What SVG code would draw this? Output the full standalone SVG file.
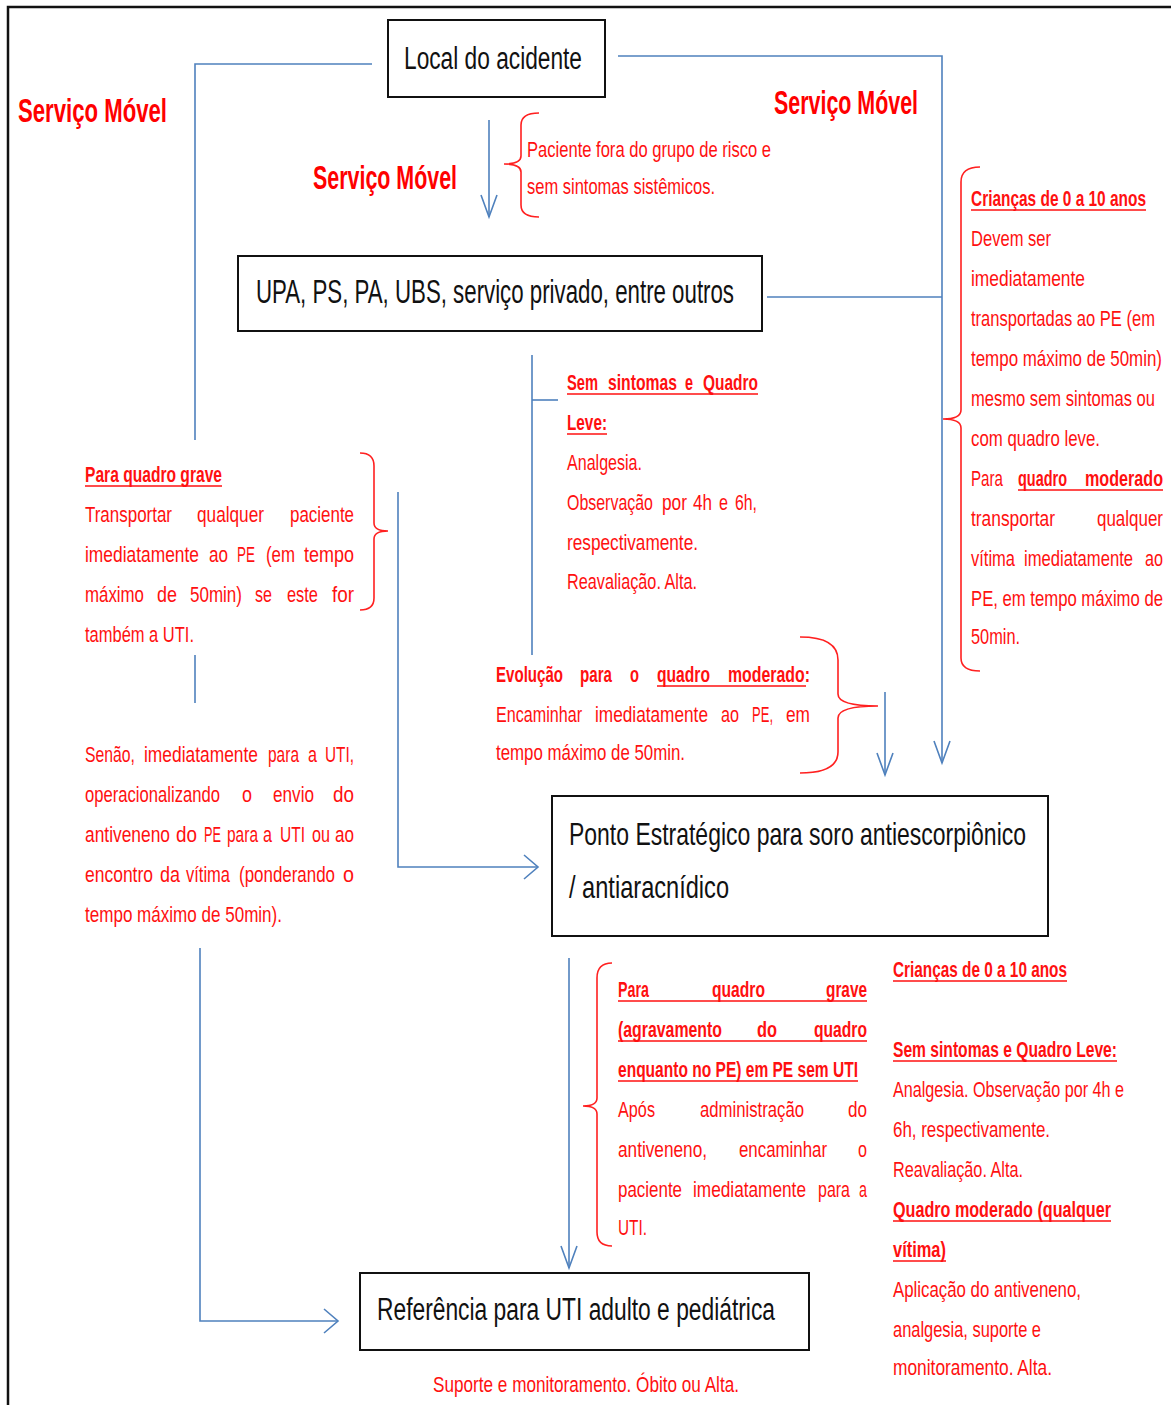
<svg xmlns="http://www.w3.org/2000/svg" width="1171" height="1405" viewBox="0 0 1171 1405">
<style>
.t{font-family:'Liberation Sans Narrow','Liberation Sans',Arial,sans-serif;font-size:22px;fill:#ff1010}
.b{font-weight:bold}
.bx{font-family:'Liberation Sans Narrow','Liberation Sans',Arial,sans-serif;fill:#111}
.h{font-family:'Liberation Sans Narrow','Liberation Sans',Arial,sans-serif;font-weight:bold;font-size:34px;fill:#ff0000}
.c{fill:none;stroke:#4f81bd;stroke-width:1.6}
.br{fill:none;stroke:#ff2020;stroke-width:1.6}
.ul{stroke:#ff1010;stroke-width:1.6}
.nb{fill:#fff;stroke:#111;stroke-width:2}
</style>
<defs>
<marker id="ad" markerWidth="30" markerHeight="30" viewBox="-25 -15 30 30" refX="0" refY="0" orient="auto" markerUnits="userSpaceOnUse"><path d="M-22,-8 L0,0 L-22,8" fill="none" stroke="#4f81bd" stroke-width="1.6"/></marker>
<marker id="ah" markerWidth="30" markerHeight="30" viewBox="-25 -15 30 30" refX="0" refY="0" orient="auto" markerUnits="userSpaceOnUse"><path d="M-14,-12 L0,0 L-14,12" fill="none" stroke="#4f81bd" stroke-width="1.6"/></marker>
</defs>
<rect width="1171" height="1405" fill="#fff"/>
<rect x="8" y="7" width="1200" height="1450" fill="none" stroke="#111" stroke-width="2.5"/>

<g id="connectors">
<polyline class="c" points="372,64 195,64 195,440"/>
<line class="c" x1="195" y1="655" x2="195" y2="703"/>
<polyline class="c" points="200,948 200,1321 338,1321" marker-end="url(#ah)"/>
<polyline class="c" points="618,56 942,56 942,763" marker-end="url(#ad)"/>
<line class="c" x1="767" y1="297" x2="942" y2="297"/>
<line class="c" x1="489" y1="120" x2="489" y2="217" marker-end="url(#ad)"/>
<line class="c" x1="532" y1="355" x2="532" y2="655"/>
<line class="c" x1="532" y1="400" x2="558" y2="400"/>
<polyline class="c" points="398,492 398,867 538,867" marker-end="url(#ah)"/>
<line class="c" x1="885" y1="692" x2="885" y2="775" marker-end="url(#ad)"/>
<line class="c" x1="569" y1="958" x2="569" y2="1268" marker-end="url(#ad)"/>
</g>

<g id="braces">
<path class="br" d="M539,113 Q521,113 521,125 L521,156 Q521,164 504,164 Q521,164 521,172 L521,205 Q521,217 539,217"/>
<path class="br" d="M980,167 Q961,167 961,182 L961,410 Q961,419 943,419 Q961,419 961,428 L961,658 Q961,671 980,671"/>
<path class="br" d="M360,453 Q374,453 374,466 L374,523 Q374,531 388,531 Q374,531 374,539 L374,598 Q374,610 360,610"/>
<path class="br" d="M800,637 Q838,637 838,660 L838,694 Q838,706 878,706 Q838,706 838,718 L838,752 Q838,773 800,773"/>
<path class="br" d="M612,963 Q597,963 597,978 L597,1098 Q597,1106 583,1106 Q597,1106 597,1114 L597,1232 Q597,1246 612,1246"/>
</g>

<g id="local">
<rect class="nb" x="388" y="20" width="217" height="77"/>
<text class="bx" x="404" y="69" font-size="31" textLength="178" lengthAdjust="spacingAndGlyphs">Local do acidente</text>
</g>
<g id="upa">
<rect class="nb" x="238" y="256" width="524" height="75"/>
<text class="bx" x="256" y="303" font-size="33" textLength="478" lengthAdjust="spacingAndGlyphs">UPA, PS, PA, UBS, serviço privado, entre outros</text>
</g>
<g id="pe">
<rect class="nb" x="552" y="796" width="496" height="140"/>
<text class="bx" x="569" y="845" font-size="32" textLength="457" lengthAdjust="spacingAndGlyphs">Ponto Estratégico para soro antiescorpiônico</text>
<text class="bx" x="569" y="898" font-size="32" textLength="160" lengthAdjust="spacingAndGlyphs">/ antiaracnídico</text>
</g>
<g id="uti">
<rect class="nb" x="360" y="1273" width="449" height="77"/>
<text class="bx" x="377" y="1320" font-size="31" textLength="398" lengthAdjust="spacingAndGlyphs">Referência para UTI adulto e pediátrica</text>
</g>

<g id="servico-movel">
<text class="h" x="18" y="122" textLength="149" lengthAdjust="spacingAndGlyphs">Serviço  Móvel</text>
<text class="h" x="313" y="189" textLength="144" lengthAdjust="spacingAndGlyphs">Serviço Móvel</text>
<text class="h" x="774" y="114" textLength="144" lengthAdjust="spacingAndGlyphs">Serviço Móvel</text>
</g>

<g id="note-top">
<text class="t" x="527" y="157" textLength="244" lengthAdjust="spacingAndGlyphs">Paciente fora do grupo de risco e</text>
<text class="t" x="527" y="194" textLength="188" lengthAdjust="spacingAndGlyphs">sem sintomas sistêmicos.</text>
</g>

<g id="note-right">
<text class="t b" x="971" y="206" textLength="175" lengthAdjust="spacingAndGlyphs">Crianças de 0 a 10 anos</text>
<line class="ul" x1="971" y1="210" x2="1146" y2="210"/>
<text class="t" x="971" y="246" textLength="80" lengthAdjust="spacingAndGlyphs">Devem ser</text>
<text class="t" x="971" y="286" textLength="114" lengthAdjust="spacingAndGlyphs">imediatamente</text>
<text class="t" x="971" y="326" textLength="184" lengthAdjust="spacingAndGlyphs">transportadas ao PE (em</text>
<text class="t" x="971" y="366" textLength="191" lengthAdjust="spacingAndGlyphs">tempo máximo de 50min)</text>
<text class="t" x="971" y="406" textLength="184" lengthAdjust="spacingAndGlyphs">mesmo sem sintomas ou</text>
<text class="t" x="971" y="446" textLength="129" lengthAdjust="spacingAndGlyphs">com quadro leve.</text>
<text class="t" y="486"><tspan x="971" textLength="32" lengthAdjust="spacingAndGlyphs">Para</tspan> <tspan class="b" x="1018" textLength="49" lengthAdjust="spacingAndGlyphs">quadro</tspan> <tspan class="b" x="1085" textLength="78" lengthAdjust="spacingAndGlyphs">moderado</tspan></text>
<line class="ul" x1="1018" y1="490" x2="1163" y2="490"/>
<text class="t" y="526"><tspan x="971" textLength="84" lengthAdjust="spacingAndGlyphs">transportar</tspan> <tspan x="1097" textLength="66" lengthAdjust="spacingAndGlyphs">qualquer</tspan></text>
<text class="t" y="566"><tspan x="971" textLength="44" lengthAdjust="spacingAndGlyphs">vítima</tspan> <tspan x="1024" textLength="109" lengthAdjust="spacingAndGlyphs">imediatamente</tspan> <tspan x="1145" textLength="18" lengthAdjust="spacingAndGlyphs">ao</tspan></text>
<text class="t" x="971" y="606" textLength="192" lengthAdjust="spacingAndGlyphs">PE, em tempo máximo de</text>
<text class="t" x="971" y="644" textLength="49" lengthAdjust="spacingAndGlyphs">50min.</text>
</g>

<g id="note-left">
<text class="t b" x="85" y="482" textLength="137" lengthAdjust="spacingAndGlyphs">Para quadro grave</text>
<line class="ul" x1="85" y1="486" x2="222" y2="486"/>
<text class="t" y="522"><tspan x="85" textLength="87" lengthAdjust="spacingAndGlyphs">Transportar</tspan> <tspan x="197" textLength="67" lengthAdjust="spacingAndGlyphs">qualquer</tspan> <tspan x="290" textLength="64" lengthAdjust="spacingAndGlyphs">paciente</tspan></text>
<text class="t" y="562"><tspan x="85" textLength="114" lengthAdjust="spacingAndGlyphs">imediatamente</tspan> <tspan x="209" textLength="19" lengthAdjust="spacingAndGlyphs">ao</tspan> <tspan x="237" textLength="18" lengthAdjust="spacingAndGlyphs">PE</tspan> <tspan x="266" textLength="29" lengthAdjust="spacingAndGlyphs">(em</tspan> <tspan x="304" textLength="50" lengthAdjust="spacingAndGlyphs">tempo</tspan></text>
<text class="t" y="602"><tspan x="85" textLength="59" lengthAdjust="spacingAndGlyphs">máximo</tspan> <tspan x="157" textLength="20" lengthAdjust="spacingAndGlyphs">de</tspan> <tspan x="190" textLength="52" lengthAdjust="spacingAndGlyphs">50min)</tspan> <tspan x="255" textLength="17" lengthAdjust="spacingAndGlyphs">se</tspan> <tspan x="287" textLength="31" lengthAdjust="spacingAndGlyphs">este</tspan> <tspan x="332" textLength="22" lengthAdjust="spacingAndGlyphs">for</tspan></text>
<text class="t" x="85" y="642" textLength="109" lengthAdjust="spacingAndGlyphs">também a UTI.</text>
<text class="t" y="762"><tspan x="85" textLength="50" lengthAdjust="spacingAndGlyphs">Senão,</tspan> <tspan x="144" textLength="114" lengthAdjust="spacingAndGlyphs">imediatamente</tspan> <tspan x="268" textLength="31" lengthAdjust="spacingAndGlyphs">para</tspan> <tspan x="308" textLength="9" lengthAdjust="spacingAndGlyphs">a</tspan> <tspan x="325" textLength="29" lengthAdjust="spacingAndGlyphs">UTI,</tspan></text>
<text class="t" y="802"><tspan x="85" textLength="135" lengthAdjust="spacingAndGlyphs">operacionalizando</tspan> <tspan x="242" textLength="10" lengthAdjust="spacingAndGlyphs">o</tspan> <tspan x="273" textLength="41" lengthAdjust="spacingAndGlyphs">envio</tspan> <tspan x="333" textLength="21" lengthAdjust="spacingAndGlyphs">do</tspan></text>
<text class="t" y="842"><tspan x="85" textLength="85" lengthAdjust="spacingAndGlyphs">antiveneno</tspan> <tspan x="176" textLength="21" lengthAdjust="spacingAndGlyphs">do</tspan> <tspan x="204" textLength="17" lengthAdjust="spacingAndGlyphs">PE</tspan> <tspan x="227" textLength="31" lengthAdjust="spacingAndGlyphs">para</tspan> <tspan x="263" textLength="9" lengthAdjust="spacingAndGlyphs">a</tspan> <tspan x="280" textLength="25" lengthAdjust="spacingAndGlyphs">UTI</tspan> <tspan x="312" textLength="18" lengthAdjust="spacingAndGlyphs">ou</tspan> <tspan x="335" textLength="19" lengthAdjust="spacingAndGlyphs">ao</tspan></text>
<text class="t" y="882"><tspan x="85" textLength="68" lengthAdjust="spacingAndGlyphs">encontro</tspan> <tspan x="160" textLength="20" lengthAdjust="spacingAndGlyphs">da</tspan> <tspan x="186" textLength="44" lengthAdjust="spacingAndGlyphs">vítima</tspan> <tspan x="239" textLength="96" lengthAdjust="spacingAndGlyphs">(ponderando</tspan> <tspan x="343" textLength="11" lengthAdjust="spacingAndGlyphs">o</tspan></text>
<text class="t" x="85" y="922" textLength="197" lengthAdjust="spacingAndGlyphs">tempo máximo de 50min).</text>
</g>

<g id="note-middle">
<text class="t b" y="390"><tspan x="567" textLength="31" lengthAdjust="spacingAndGlyphs">Sem</tspan> <tspan x="608" textLength="69" lengthAdjust="spacingAndGlyphs">sintomas</tspan> <tspan x="685" textLength="8" lengthAdjust="spacingAndGlyphs">e</tspan> <tspan x="703" textLength="55" lengthAdjust="spacingAndGlyphs">Quadro</tspan></text>
<line class="ul" x1="567" y1="394" x2="758" y2="394"/>
<text class="t b" x="567" y="430" textLength="40" lengthAdjust="spacingAndGlyphs">Leve:</text>
<line class="ul" x1="567" y1="434" x2="607" y2="434"/>
<text class="t" x="567" y="470" textLength="75" lengthAdjust="spacingAndGlyphs">Analgesia.</text>
<text class="t" y="510"><tspan x="567" textLength="86" lengthAdjust="spacingAndGlyphs">Observação</tspan> <tspan x="662" textLength="25" lengthAdjust="spacingAndGlyphs">por</tspan> <tspan x="693" textLength="19" lengthAdjust="spacingAndGlyphs">4h</tspan> <tspan x="719" textLength="9" lengthAdjust="spacingAndGlyphs">e</tspan> <tspan x="735" textLength="22" lengthAdjust="spacingAndGlyphs">6h,</tspan></text>
<text class="t" x="567" y="550" textLength="131" lengthAdjust="spacingAndGlyphs">respectivamente.</text>
<text class="t" x="567" y="589" textLength="130" lengthAdjust="spacingAndGlyphs">Reavaliação. Alta.</text>
</g>

<g id="note-evolucao">
<text class="t b" y="682"><tspan x="496" textLength="67" lengthAdjust="spacingAndGlyphs">Evolução</tspan> <tspan x="580" textLength="32" lengthAdjust="spacingAndGlyphs">para</tspan> <tspan x="630" textLength="9" lengthAdjust="spacingAndGlyphs">o</tspan> <tspan x="657" textLength="53" lengthAdjust="spacingAndGlyphs">quadro</tspan> <tspan x="728" textLength="82" lengthAdjust="spacingAndGlyphs">moderado:</tspan></text>
<line class="ul" x1="657" y1="686" x2="806" y2="686"/>
<text class="t" y="722"><tspan x="496" textLength="86" lengthAdjust="spacingAndGlyphs">Encaminhar</tspan> <tspan x="595" textLength="113" lengthAdjust="spacingAndGlyphs">imediatamente</tspan> <tspan x="721" textLength="18" lengthAdjust="spacingAndGlyphs">ao</tspan> <tspan x="752" textLength="21" lengthAdjust="spacingAndGlyphs">PE,</tspan> <tspan x="786" textLength="24" lengthAdjust="spacingAndGlyphs">em</tspan></text>
<text class="t" x="496" y="760" textLength="189" lengthAdjust="spacingAndGlyphs">tempo máximo de 50min.</text>
</g>

<g id="note-bottom">
<text class="t b" y="997"><tspan x="618" textLength="31" lengthAdjust="spacingAndGlyphs">Para</tspan> <tspan x="712" textLength="53" lengthAdjust="spacingAndGlyphs">quadro</tspan> <tspan x="826" textLength="41" lengthAdjust="spacingAndGlyphs">grave</tspan></text>
<line class="ul" x1="618" y1="1001" x2="867" y2="1001"/>
<text class="t b" y="1037"><tspan x="618" textLength="104" lengthAdjust="spacingAndGlyphs">(agravamento</tspan> <tspan x="757" textLength="20" lengthAdjust="spacingAndGlyphs">do</tspan> <tspan x="814" textLength="53" lengthAdjust="spacingAndGlyphs">quadro</tspan></text>
<line class="ul" x1="618" y1="1041" x2="867" y2="1041"/>
<text class="t b" x="618" y="1077" textLength="240" lengthAdjust="spacingAndGlyphs">enquanto no PE) em PE sem UTI</text>
<line class="ul" x1="618" y1="1081" x2="858" y2="1081"/>
<text class="t" y="1117"><tspan x="618" textLength="37" lengthAdjust="spacingAndGlyphs">Após</tspan> <tspan x="700" textLength="104" lengthAdjust="spacingAndGlyphs">administração</tspan> <tspan x="848" textLength="19" lengthAdjust="spacingAndGlyphs">do</tspan></text>
<text class="t" y="1157"><tspan x="618" textLength="89" lengthAdjust="spacingAndGlyphs">antiveneno,</tspan> <tspan x="739" textLength="88" lengthAdjust="spacingAndGlyphs">encaminhar</tspan> <tspan x="858" textLength="9" lengthAdjust="spacingAndGlyphs">o</tspan></text>
<text class="t" y="1197"><tspan x="618" textLength="64" lengthAdjust="spacingAndGlyphs">paciente</tspan> <tspan x="693" textLength="113" lengthAdjust="spacingAndGlyphs">imediatamente</tspan> <tspan x="818" textLength="32" lengthAdjust="spacingAndGlyphs">para</tspan> <tspan x="859" textLength="8" lengthAdjust="spacingAndGlyphs">a</tspan></text>
<text class="t" x="618" y="1235" textLength="29" lengthAdjust="spacingAndGlyphs">UTI.</text>
</g>

<g id="note-bottom-right">
<text class="t b" x="893" y="977" textLength="174" lengthAdjust="spacingAndGlyphs">Crianças de 0 a 10 anos</text>
<line class="ul" x1="893" y1="981" x2="1067" y2="981"/>
<text class="t b" x="893" y="1057" textLength="224" lengthAdjust="spacingAndGlyphs">Sem sintomas e Quadro Leve:</text>
<line class="ul" x1="893" y1="1061" x2="1117" y2="1061"/>
<text class="t" x="893" y="1097" textLength="231" lengthAdjust="spacingAndGlyphs">Analgesia. Observação por 4h e</text>
<text class="t" x="893" y="1137" textLength="157" lengthAdjust="spacingAndGlyphs">6h, respectivamente.</text>
<text class="t" x="893" y="1177" textLength="130" lengthAdjust="spacingAndGlyphs">Reavaliação. Alta.</text>
<text class="t b" x="893" y="1217" textLength="218" lengthAdjust="spacingAndGlyphs">Quadro moderado (qualquer</text>
<line class="ul" x1="893" y1="1221" x2="1111" y2="1221"/>
<text class="t b" x="893" y="1257" textLength="53" lengthAdjust="spacingAndGlyphs">vítima)</text>
<line class="ul" x1="893" y1="1261" x2="946" y2="1261"/>
<text class="t" x="893" y="1297" textLength="188" lengthAdjust="spacingAndGlyphs">Aplicação do antiveneno,</text>
<text class="t" x="893" y="1337" textLength="148" lengthAdjust="spacingAndGlyphs">analgesia, suporte e</text>
<text class="t" x="893" y="1375" textLength="159" lengthAdjust="spacingAndGlyphs">monitoramento. Alta.</text>
</g>

<g id="note-uti">
<text class="t" x="433" y="1392" textLength="306" lengthAdjust="spacingAndGlyphs">Suporte e monitoramento. Óbito ou Alta.</text>
</g>
</svg>
